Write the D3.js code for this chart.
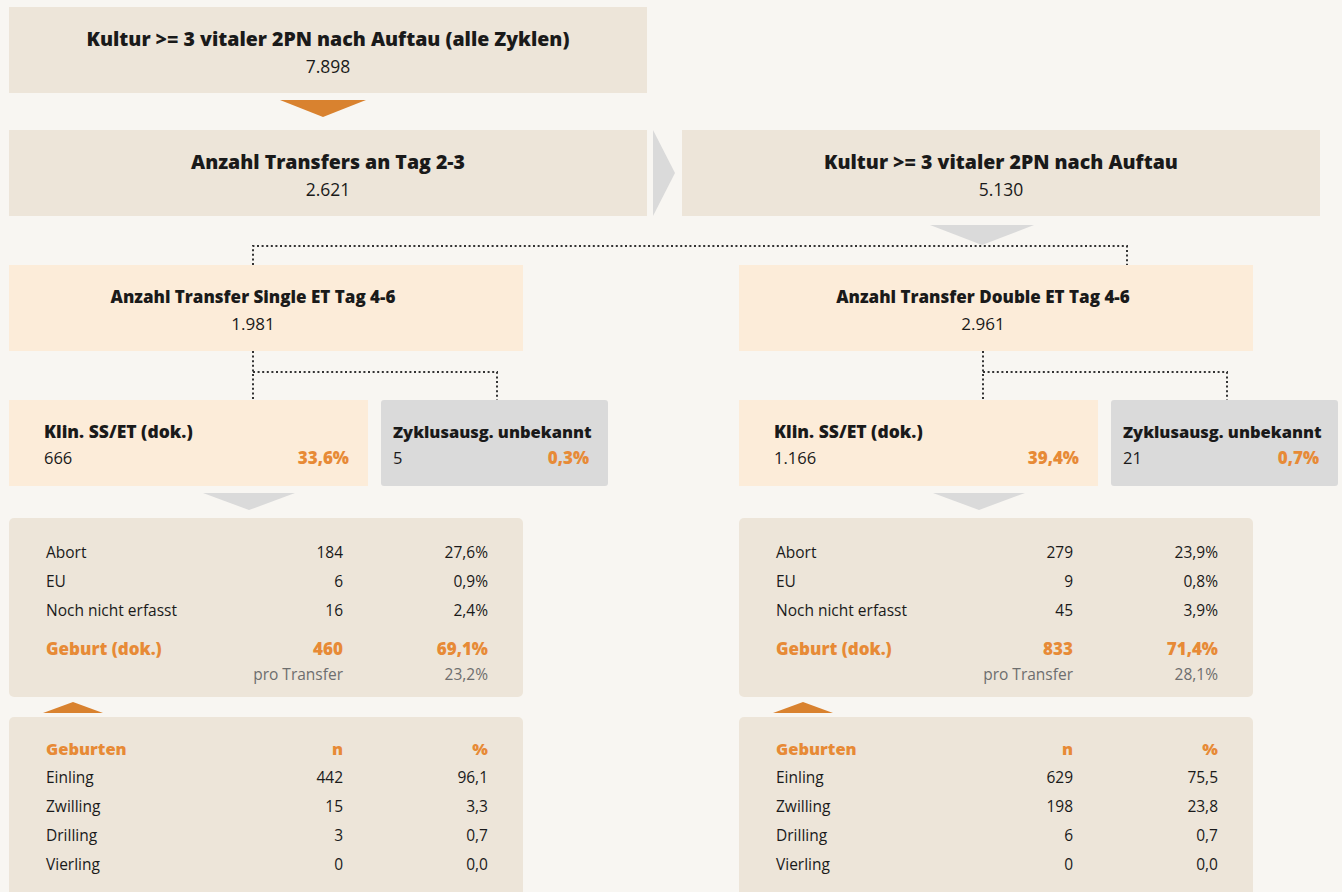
<!DOCTYPE html>
<html>
<head>
<meta charset="utf-8">
<script src="https://cdn.jsdelivr.net/npm/d3@7"></script>
<style>
  body { margin: 0; background: #f8f6f2; }
  svg text { font-family: "Open Sans", "Noto Sans", sans-serif; }
</style>
</head>
<body>
<svg id="chart" width="1342" height="892"></svg>
<script>
// top of the tree
var stageLabels = ['Kultur >= 3 vitaler 2PN nach Auftau (alle Zyklen)', 'Anzahl Transfers an Tag 2-3', 'Kultur >= 3 vitaler 2PN nach Auftau']
var stageValues = ['7.898', '2.621', '5.130']

// two arms: single / double ET
var armLabels = ['Anzahl Transfer Single ET Tag 4-6', 'Anzahl Transfer Double ET Tag 4-6']
var armValues = ['1.981', '2.961']
var klinN = ['666', '1.166']
var klinPct = ['33,6%', '39,4%']
var unbekanntN = ['5', '21']
var unbekanntPct = ['0,3%', '0,7%']

var outcomeLabels = ['Abort', 'EU', 'Noch nicht erfasst']
var outcomeN = [['184', '6', '16'], ['279', '9', '45']]
var outcomePct = [['27,6%', '0,9%', '2,4%'], ['23,9%', '0,8%', '3,9%']]
var geburtN = ['460', '833']
var geburtPct = ['69,1%', '71,4%']
var proTransferPct = ['23,2%', '28,1%']

var birthHeader = ['Geburten', 'n', '%']
var birthLabels = ['Einling', 'Zwilling', 'Drilling', 'Vierling']
var birthN = [['442', '15', '3', '0'], ['629', '198', '6', '0']]
var birthPct = [['96,1', '3,3', '0,7', '0,0'], ['75,5', '23,8', '0,7', '0,0']]

var BEIGE = '#ede5d9', PEACH = '#fcecd9', GREY = '#dadada', ORANGE = '#e78a36', TRI = '#d9822f', INK = '#1a1a1a'

var svg = d3.select('#chart')

function box(x, y, w, h, fill, r) {
    svg.append('rect').attr('x', x).attr('y', y).attr('width', w).attr('height', h)
        .attr('rx', r || 0).attr('fill', fill)
}
function txt(x, y, s, o) {
    o = o || {}
    return svg.append('text').attr('x', x).attr('y', y).text(s)
        .attr('dominant-baseline', 'central')
        .attr('text-anchor', o.anchor || 'start')
        .attr('font-size', o.size || 15)
        .attr('font-weight', o.bold ? 800 : 400)
        .attr('fill', o.fill || INK)
}
function tri(cx, y, w, h, fill, up) {
    var p = up ? [[cx - w / 2, y + h], [cx + w / 2, y + h], [cx, y]] : [[cx - w / 2, y], [cx + w / 2, y], [cx, y + h]]
    svg.append('path').attr('d', d3.line()(p) + 'Z').attr('fill', fill)
}
function dots(pts) {
    svg.append('path').attr('d', d3.line()(pts)).attr('fill', 'none')
        .attr('stroke', '#333').attr('stroke-width', 2).attr('stroke-dasharray', '2,2.6')
}

// top stages
var stageX = [9, 9, 682], stageY = [7, 130, 130]
stageLabels.forEach(function(s, i) {
    box(stageX[i], stageY[i], 638, 86, BEIGE)
    txt(stageX[i] + 319, stageY[i] + 31, s, {anchor: 'middle', size: 19.5, bold: true})
    txt(stageX[i] + 319, stageY[i] + 59, stageValues[i], {anchor: 'middle', size: 17.5})
})
tri(323, 100, 86, 17, TRI)
svg.append('path').attr('d', d3.line()([[653, 130], [675, 173], [653, 216]]) + 'Z').attr('fill', GREY)
tri(982, 225, 104, 20, GREY)

// split into the two arms
var armX = d3.scaleOrdinal().domain([0, 1]).range([9, 739])
dots([[253, 265], [253, 246], [1127, 246], [1127, 265]])

var rowY = d3.scaleLinear().domain([0, 1]).range([552, 581])
var birthY = d3.scaleLinear().domain([0, 1]).range([777, 806])

armLabels.forEach(function(s, i) {
    var x0 = armX(i)
    box(x0, 265, 514, 86, PEACH)
    txt(x0 + 244, 296, s, {anchor: 'middle', size: 17, bold: true})
    txt(x0 + 244, 323, armValues[i], {anchor: 'middle', size: 17})

    dots([[x0 + 244, 351], [x0 + 244, 400]])
    dots([[x0 + 244, 372], [x0 + 488, 372], [x0 + 488, 400]])

    // klin. SS
    box(x0, 400, 359, 86, PEACH)
    var kx = x0 + 35
    txt(kx, 431, 'Klin. SS/ET (dok.)', {size: 17.5, bold: true})
    txt(kx, 457, klinN[i], {size: 16.5})
    txt(x0 + 340, 457, klinPct[i], {anchor: 'end', size: 17, bold: true, fill: ORANGE})

    // unknown outcome
    box(x0 + 372, 400, 227, 86, GREY, 3)
    txt(x0 + 384, 431, 'Zyklusausg. unbekannt', {size: 16.5, bold: true})
    txt(x0 + 384, 457, unbekanntN[i], {size: 16.5})
    txt(x0 + 580, 457, unbekanntPct[i], {anchor: 'end', size: 17, bold: true, fill: ORANGE})

    tri(x0 + 240, 493, 92, 17, GREY)

    // outcomes
    box(x0, 518, 514, 179, BEIGE, 5)
    var cLab = x0 + 37, cN = x0 + 334, cP = x0 + 479
    outcomeLabels.forEach(function(l, j) {
        txt(cLab, rowY(j), l, {size: 15.5})
        txt(cN, rowY(j), outcomeN[i][j], {anchor: 'end', size: 15.5})
        txt(cP, rowY(j), outcomePct[i][j], {anchor: 'end', size: 15.5})
    })
    txt(cLab, 648, 'Geburt (dok.)', {size: 17, bold: true, fill: ORANGE})
    txt(cN, 648, geburtN[i], {anchor: 'end', size: 17, bold: true, fill: ORANGE})
    txt(cP, 648, geburtPct[i], {anchor: 'end', size: 17, bold: true, fill: ORANGE})
    txt(cN, 674, 'pro Transfer', {anchor: 'end', size: 15.5, fill: '#6e6e6e'})
    txt(cP, 674, proTransferPct[i], {anchor: 'end', size: 15.5, fill: '#6e6e6e'})

    tri(x0 + 64, 702, 60, 11, TRI, true)

    // births
    box(x0, 717, 514, 190, BEIGE, 5)
    txt(cLab, 748, birthHeader[0], {size: 16.5, bold: true, fill: ORANGE})
    txt(cN, 748, birthHeader[1], {anchor: 'end', size: 16.5, bold: true, fill: ORANGE})
    txt(cP, 748, birthHeader[2], {anchor: 'end', size: 16.5, bold: true, fill: ORANGE})
    birthLabels.forEach(function(l, j) {
        txt(cLab, birthY(j), l, {size: 15.5})
        txt(cN, birthY(j), birthN[i][j], {anchor: 'end', size: 15.5})
        txt(cP, birthY(j), birthPct[i][j], {anchor: 'end', size: 15.5})
    })
})
</script>
</body>
</html>
